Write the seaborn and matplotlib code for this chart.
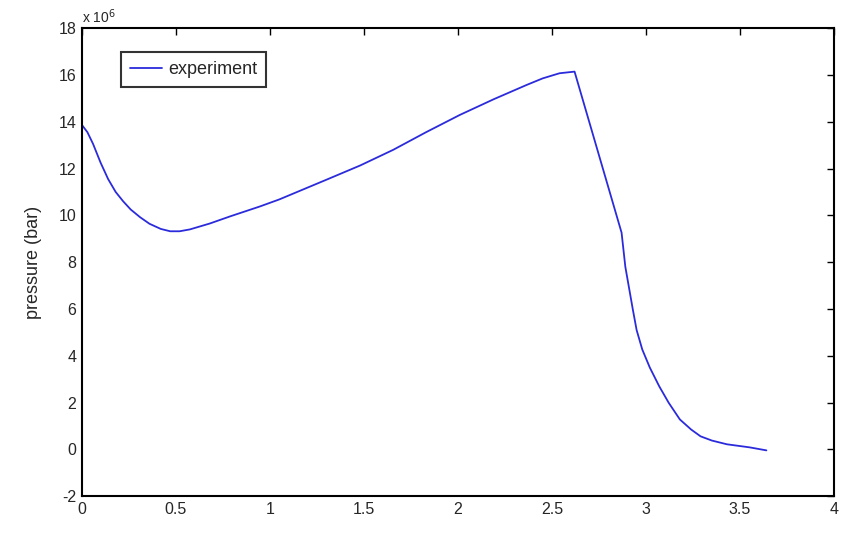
import numpy as np
import matplotlib
matplotlib.use("Agg")
import matplotlib.pyplot as plt
import seaborn as sns

# time axis and pressure in units of 1e6
time = [0.0, 0.03, 0.06, 0.1, 0.14, 0.18, 0.22, 0.26, 0.31, 0.36, 0.42, 0.47,
        0.52, 0.575, 0.68, 0.79, 0.947, 1.05, 1.3, 1.48, 1.656, 1.83, 2.01,
        2.19, 2.365, 2.45, 2.54, 2.62, 2.87, 2.89, 2.93, 2.95, 2.98, 3.02,
        3.07, 3.12, 3.18, 3.24, 3.29, 3.35, 3.43, 3.55, 3.64]
pressure = [13.87, 13.55, 13.05, 12.25, 11.55, 11.0, 10.6, 10.25, 9.92, 9.64,
            9.42, 9.32, 9.32, 9.4, 9.65, 9.96, 10.38, 10.68, 11.52, 12.13,
            12.8, 13.55, 14.29, 14.96, 15.57, 15.85, 16.07, 16.14, 9.26, 7.8,
            5.97, 5.1, 4.27, 3.5, 2.7, 2.0, 1.28, 0.85, 0.56, 0.38, 0.22,
            0.09, -0.04]

xticks = [0, 0.5, 1, 1.5, 2, 2.5, 3, 3.5, 4]
yticks = [-2, 0, 2, 4, 6, 8, 10, 12, 14, 16, 18]

sns.set_style("white")
plt.rcParams['font.family'] = ['Liberation Sans', 'DejaVu Sans']
plt.rcParams['axes.unicode_minus'] = False

fig = plt.figure(figsize=(8.52, 5.4), dpi=100)
ax = fig.add_axes([0.096, 0.081, 0.883, 0.867])

sns.lineplot(x=time, y=pressure, ax=ax, color='#2b2bdc', linewidth=1.3,
             label='experiment', sort=False, estimator=None)

ax.set_xlim(0, 4)
ax.set_ylim(-2, 18)
ax.set_xticks(xticks)
ax.set_xticklabels([f"{t:g}" for t in xticks])
ax.set_yticks(yticks)
ax.set_yticklabels([str(t) for t in yticks])
ax.tick_params(direction='in', top=True, right=True, length=5, width=1,
               labelsize=11.5, color='black', pad=4)
for s in ax.spines.values():
    s.set_visible(True)
    s.set_color('black')
    s.set_linewidth(1.5)

ax.set_ylabel('pressure (bar)', fontsize=13, labelpad=12)
ax.text(0.0, 1.005, r'x 10$^6$', transform=ax.transAxes, fontsize=10,
        ha='left', va='bottom')

leg = ax.legend(loc='upper left', bbox_to_anchor=(0.04, 0.968), fontsize=13,
                frameon=True, fancybox=False, handlelength=1.8,
                handletextpad=0.3, borderpad=0.5)
leg.get_frame().set_edgecolor('black')
leg.get_frame().set_linewidth(1.5)

fig.savefig('out.png', dpi=100, facecolor='white')
